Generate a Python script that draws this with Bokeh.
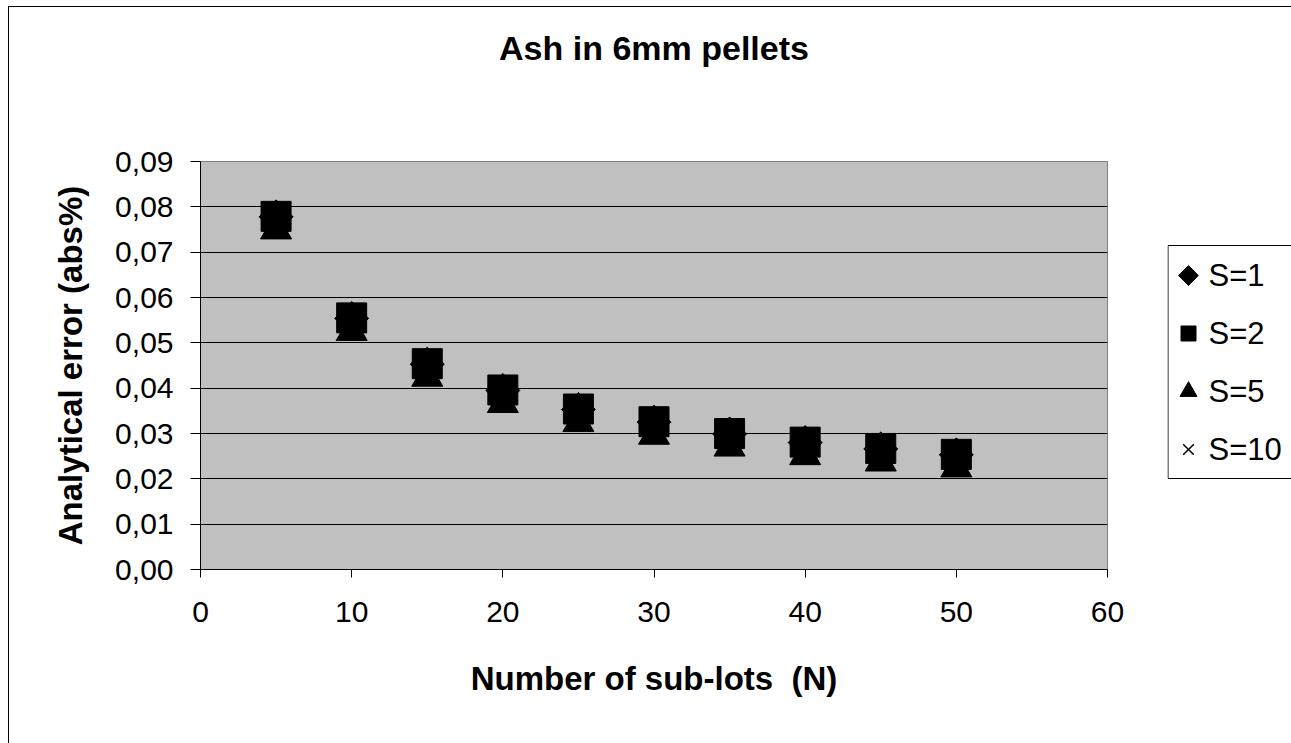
import math
from bokeh.plotting import figure
from bokeh.layouts import row
from bokeh.models import FixedTicker, CustomJSTickFormatter, Range1d, Title
from bokeh.core.properties import value
from bokeh.embed import file_html
from bokeh.resources import INLINE

# ---- data ----
title_text = "Ash in 6mm pellets"
x_label = "Number of sub-lots \u00a0(N)"
y_label = "Analytical error (abs%)"
series_names = ["S=1", "S=2", "S=5", "S=10"]
N = [5, 10, 15, 20, 25, 30, 35, 40, 45, 50]
s1 = [0.0778, 0.0554, 0.0453, 0.0395, 0.0353, 0.0325, 0.0299, 0.0280, 0.0266, 0.0253]
s2 = [0.0779, 0.0555, 0.0454, 0.0396, 0.0354, 0.0326, 0.0300, 0.0281, 0.0267, 0.0254]
s5 = [0.0749, 0.0525, 0.0424, 0.0366, 0.0324, 0.0296, 0.0270, 0.0251, 0.0237, 0.0224]
s10 = [0.0770, 0.0546, 0.0445, 0.0387, 0.0345, 0.0317, 0.0291, 0.0272, 0.0258, 0.0245]
x_ticks = [0, 10, 20, 30, 40, 50, 60]
y_ticks = [0.00, 0.01, 0.02, 0.03, 0.04, 0.05, 0.06, 0.07, 0.08, 0.09]

FONT = "Liberation Sans"
TOP, BOTTOM = 154, 175

# ---------------- main chart ----------------
p = figure(width=1158, height=737, x_range=Range1d(0, 60), y_range=Range1d(0, 0.09),
           output_backend="svg", toolbar_location=None, title_location=None,
           min_border_left=191, min_border_right=60,
           min_border_top=TOP, min_border_bottom=BOTTOM)

# spacer (nearest the plot area) and then the real title above it
p.add_layout(Title(text=" ", text_font_size="1px", standoff=87), "above")
p.add_layout(Title(text=title_text, align="center", vertical_align="bottom",
                   text_font=FONT, text_font_size="34px", text_font_style="bold",
                   text_color="black", standoff=10), "above")

p.background_fill_color = "#C0C0C0"
p.border_fill_color = "white"
p.outline_line_color = "#808080"

p.xgrid.visible = False
p.ygrid.grid_line_color = "black"
p.ygrid.grid_line_width = 1

p.xaxis.ticker = FixedTicker(ticks=x_ticks)
p.yaxis.ticker = FixedTicker(ticks=y_ticks)
p.yaxis.formatter = CustomJSTickFormatter(code="return tick.toFixed(2).replace('.', ',');")

for ax in (p.xaxis[0], p.yaxis[0]):
    ax.axis_line_color = "black"
    ax.major_tick_line_color = "black"
    ax.minor_tick_line_color = None
    ax.major_tick_in = 0
    ax.major_label_text_font = FONT
    ax.major_label_text_font_size = "30px"
    ax.major_label_text_color = "black"
    ax.axis_label_text_font = FONT
    ax.axis_label_text_font_size = "33px"
    ax.axis_label_text_font_style = "bold"
    ax.axis_label_text_color = "black"

p.xaxis.axis_label = x_label
p.yaxis.axis_label = y_label
p.xaxis.major_tick_out = 8
p.yaxis.major_tick_out = 10
p.xaxis.major_label_standoff = 24
p.yaxis.major_label_standoff = 17
p.xaxis.axis_label_standoff = 35
p.yaxis.axis_label_standoff = 23

p.scatter(N, s1, marker="square", angle=math.pi / 4, size=24,
          fill_color="black", line_color="black")
p.scatter(N, s2, marker="square", size=30, fill_color="black", line_color="black")
p.scatter(N, s5, marker="triangle", size=31, fill_color="black", line_color="black")
p.scatter(N, s10, marker="x", size=28, line_color="black", line_width=2)

# ---------------- legend panel (outside the plot area) ----------------
LW, FH = 125, 737 - TOP - BOTTOM
pl = figure(width=LW, height=737, x_range=Range1d(0, LW), y_range=Range1d(0, FH),
            x_axis_type=None, y_axis_type=None, output_backend="svg",
            toolbar_location=None, title_location=None,
            min_border_left=0, min_border_right=0,
            min_border_top=TOP, min_border_bottom=BOTTOM)
pl.outline_line_color = None
pl.background_fill_color = "white"
pl.border_fill_color = "white"
box_bottom, box_top = 91, 324
pl.quad(left=[0.5], right=[LW + 50], bottom=[box_bottom], top=[box_top],
        fill_color="white", line_color="black", line_width=1)

row_y = [box_top - 30 - 58 * i for i in range(len(series_names))]
gx = 21
pl.scatter([gx], [row_y[0]], marker="square", angle=math.pi / 4, size=14,
           fill_color="black", line_color="black")
pl.scatter([gx], [row_y[1]], marker="square", size=15, fill_color="black", line_color="black")
pl.scatter([gx], [row_y[2]], marker="triangle", size=17, fill_color="black", line_color="black")
pl.scatter([gx], [row_y[3]], marker="x", size=15, line_color="black", line_width=1.5)
pl.text(x=[41] * len(series_names), y=row_y, text=series_names,
        text_baseline="middle", text_align="left", text_font=value(FONT),
        text_font_size="31px", text_color="black")

layout = row(p, pl, spacing=0)
layout.styles = {"margin-left": "8px", "margin-top": "6px",
                 "border-left": "1px solid black", "border-top": "1px solid black"}

open("out.html", "w").write(file_html(layout, INLINE))
